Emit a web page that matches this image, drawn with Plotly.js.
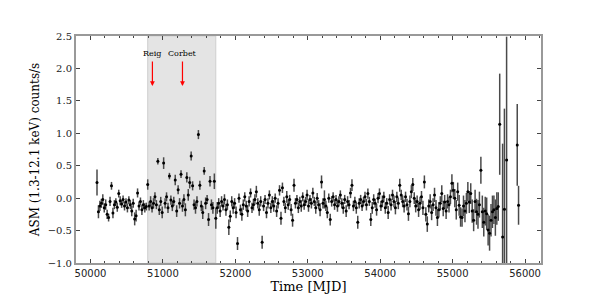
<!DOCTYPE html>
<html>
<head>
<meta charset="utf-8">
<script src="https://cdn.plot.ly/plotly-3.0.1.min.js"></script>
<style>html,body{margin:0;padding:0;background:#fff;}#chart{width:600px;height:300px;}</style>
</head>
<body>
<div id="chart"></div>
<script>
// ---- data (MJD, ASM rate, 1-sigma error) ----
const tA = [50090,50110,50130,50150,50170,50190,50210,50230,50250,50270,50290,50310,50330,50350,50370,50390,50410,50430,50450,50470,50490,50510,50530,50550,50570,50590,50610,50630,50650,50670,50690,50710,50730,50750,50770,50790];
const vA = [0.24,-0.21,-0.12,-0.08,-0.02,-0.15,-0.10,-0.25,-0.30,-0.05,0.19,-0.23,-0.10,-0.06,-0.14,0.07,-0.04,-0.09,-0.02,-0.12,-0.06,-0.15,-0.03,-0.10,-0.20,-0.08,-0.32,-0.27,0.08,-0.12,-0.05,-0.18,-0.10,-0.15,-0.13,0.21];
const eA = [0.20,0.10,0.08,0.07,0.08,0.07,0.08,0.07,0.06,0.07,0.06,0.08,0.07,0.06,0.07,0.06,0.07,0.06,0.06,0.07,0.06,0.07,0.06,0.07,0.08,0.07,0.10,0.09,0.07,0.07,0.06,0.08,0.07,0.07,0.06,0.08];

const tB = [50810,50830,50850,50870,50890,50910,50930,50950,50970,50990,51010,51030,51050,51070,51090,51110,51130,51150,51170,51190,51210,51230,51250,51270,51290,51310,51330,51350,51370,51390,51410,51430,51450,51470,51490,51510,51530,51550,51570,51590,51610,51630,51650,51670,51690,51710,51730];
const vB = [-0.12,-0.05,-0.15,-0.08,0.02,-0.10,0.57,-0.18,-0.05,-0.22,0.54,-0.08,0.02,-0.15,0.34,-0.03,-0.12,-0.05,0.28,-0.20,0.13,-0.08,0.37,-0.12,-0.02,-0.18,0.32,0.05,0.24,0.65,0.19,-0.10,-0.15,-0.05,0.98,0.20,-0.12,-0.22,0.42,-0.08,-0.02,-0.33,0.26,-0.10,-0.15,0.26,-0.31];
const eB = [0.07,0.08,0.07,0.08,0.07,0.07,0.05,0.08,0.07,0.09,0.09,0.08,0.07,0.08,0.05,0.07,0.08,0.07,0.08,0.09,0.07,0.08,0.06,0.09,0.08,0.10,0.08,0.09,0.09,0.07,0.07,0.08,0.09,0.08,0.07,0.07,0.08,0.10,0.06,0.09,0.07,0.10,0.08,0.08,0.09,0.12,0.16];

const tC = [51750,51770,51790,51810,51830,51850,51870,51890,51910,51930,51950,51970,51990,52010,52030,52050,52070,52090,52110,52130,52150,52170,52190,52210,52230,52250,52270,52290,52310,52330,52350,52370,52390,52410,52430,52450,52470,52490,52510,52530,52550,52570,52590,52610,52630,52650,52670,52690,52710,52730,52750,52770,52790,52810];
const vC = [-0.15,-0.08,-0.20,-0.05,-0.12,-0.02,-0.18,-0.10,-0.45,-0.28,-0.05,-0.15,-0.08,-0.22,-0.70,0.00,-0.18,-0.25,-0.10,0.02,-0.12,-0.20,-0.05,0.08,-0.15,-0.10,-0.02,0.10,-0.08,-0.18,-0.05,-0.68,-0.12,-0.02,-0.22,-0.08,0.05,-0.15,-0.05,-0.12,0.00,-0.20,-0.08,0.12,-0.31,0.16,-0.05,-0.15,0.02,-0.10,-0.02,-0.18,-0.34,0.20];
const eC = [0.09,0.08,0.09,0.08,0.07,0.08,0.09,0.08,0.12,0.09,0.08,0.09,0.08,0.09,0.10,0.07,0.08,0.10,0.08,0.07,0.08,0.09,0.08,0.07,0.08,0.09,0.08,0.09,0.08,0.09,0.08,0.10,0.08,0.07,0.09,0.08,0.07,0.08,0.08,0.09,0.07,0.09,0.08,0.08,0.10,0.08,0.07,0.08,0.09,0.08,0.07,0.09,0.10,0.10];

const tD = [52830,52850,52870,52890,52910,52930,52950,52970,52990,53010,53030,53050,53070,53090,53110,53130,53150,53170,53190,53210,53230,53250,53270,53290,53310,53330,53350,53370,53390,53410,53430,53450,53470,53490,53510,53530,53550,53570,53590,53610,53630,53650,53670,53690,53710,53730,53750,53770,53790,53810,53830,53850,53870,53890,53910,53930,53950,53970,53990];
const vD = [-0.08,-0.02,-0.15,-0.05,-0.12,0.02,-0.10,-0.05,0.05,-0.12,-0.02,-0.08,0.08,-0.05,-0.15,0.00,-0.10,-0.18,0.25,-0.08,-0.02,-0.12,-0.22,0.00,-0.33,-0.05,0.02,-0.10,-0.02,-0.12,-0.05,0.05,-0.08,-0.15,-0.02,-0.20,-0.05,-0.10,0.08,0.20,-0.12,-0.05,-0.15,-0.37,-0.08,-0.02,-0.12,-0.05,0.02,-0.10,0.07,-0.05,-0.33,-0.15,-0.02,-0.08,-0.18,0.00,0.07];
const eD = [0.08,0.07,0.08,0.07,0.09,0.07,0.08,0.07,0.08,0.09,0.07,0.08,0.08,0.07,0.09,0.08,0.07,0.10,0.10,0.08,0.14,0.08,0.09,0.07,0.09,0.08,0.07,0.08,0.07,0.09,0.08,0.07,0.08,0.09,0.07,0.09,0.08,0.07,0.08,0.09,0.08,0.07,0.09,0.10,0.08,0.07,0.08,0.07,0.08,0.09,0.08,0.07,0.10,0.09,0.08,0.07,0.09,0.08,0.08];

const tE = [54010,54030,54050,54070,54090,54110,54130,54150,54170,54190,54210,54230,54250,54270,54290,54310,54330,54350,54370,54390,54410,54430,54450,54470,54490,54510,54530,54550,54570,54590,54610,54630,54650,54670,54690,54710,54730,54750,54770,54790,54810,54830,54850,54870,54890,54910,54930,54950,54970,54990,55010,55030,55050,55070,55090,55110,55130,55150,55170,55190,55210,55230,55250,55270,55290];
const vE = [-0.12,-0.05,0.02,-0.15,-0.08,-0.22,-0.02,-0.10,0.05,-0.05,-0.15,0.02,-0.08,0.20,0.05,-0.05,-0.12,0.02,-0.10,-0.24,-0.05,0.10,0.21,0.00,-0.12,-0.05,-0.18,-0.08,0.02,-0.15,0.25,-0.25,-0.40,-0.12,-0.05,-0.22,-0.10,0.05,-0.15,-0.30,-0.18,-0.08,0.07,-0.16,-0.06,-0.20,-0.05,-0.10,0.02,0.23,0.12,0.00,-0.18,0.10,-0.11,-0.29,-0.30,-0.12,-0.20,-0.08,0.10,-0.06,0.07,-0.20,-0.34];
const eE = [0.08,0.09,0.08,0.09,0.08,0.10,0.08,0.09,0.08,0.09,0.10,0.08,0.09,0.10,0.08,0.09,0.10,0.08,0.09,0.11,0.09,0.10,0.10,0.09,0.10,0.09,0.11,0.10,0.09,0.11,0.10,0.11,0.12,0.10,0.11,0.12,0.10,0.11,0.12,0.13,0.12,0.11,0.13,0.12,0.11,0.12,0.11,0.12,0.11,0.14,0.13,0.14,0.15,0.14,0.16,0.15,0.14,0.16,0.17,0.16,0.15,0.17,0.16,0.18,0.17];

const tF = [55310,55330,55350,55370,55390,55410,55430,55450,55470,55490,55510,55530,55550,55570,55590,55610,55630,55650,55690,55715,55745,55892,55910];
const vF = [-0.05,-0.21,-0.25,-0.10,0.43,-0.21,-0.37,-0.20,-0.24,-0.49,-0.54,-0.34,-0.21,-0.18,-0.30,-0.16,-0.13,1.14,-0.60,-0.17,0.59,0.82,-0.11];
const eF = [0.18,0.20,0.22,0.20,0.21,0.25,0.22,0.22,0.25,0.24,0.27,0.25,0.25,0.22,0.28,0.25,0.22,0.78,1.44,1.55,1.90,0.63,0.30];

const shadeStart = 50790, shadeEnd = 51730;
const refNames = ["Reig", "Corbet"];
const refTimes = [50855, 51270];

const xTickVals = [50000,51000,52000,53000,54000,55000,56000];
const yTickVals = [-1.0,-0.5,0.0,0.5,1.0,1.5,2.0,2.5];

// ---- build ----
const t = [].concat(tA,tB,tC,tD,tE,tF);
const v = [].concat(vA,vB,vC,vD,vE,vF);
const e = [].concat(eA,eB,eC,eD,eE,eF);

const trace = {
  x: t, y: v, type: 'scatter', mode: 'markers',
  marker: {color: '#000', size: 3},
  error_y: {type: 'data', array: e, visible: true, color: '#4a4a4a', thickness: 1.5, width: 0},
  hoverinfo: 'skip', showlegend: false
};

const annotations = [];
refNames.forEach((name, i) => {
  annotations.push({x: refTimes[i], y: 2.23, xref: 'x', yref: 'y', text: name, showarrow: false,
    font: {family: 'DejaVu Serif', size: 8, color: '#000'}, xanchor: 'center', yanchor: 'middle'});
  annotations.push({x: refTimes[i], y: 1.73, xref: 'x', yref: 'y', ax: refTimes[i], ay: 2.13,
    axref: 'x', ayref: 'y', text: '', showarrow: true, arrowhead: 2, arrowsize: 0.8,
    arrowwidth: 1.2, arrowcolor: '#ff0000', standoff: 0, startstandoff: 0});
});

const axisCommon = {
  showline: true, linecolor: '#999', linewidth: 2, mirror: 'allticks',
  ticks: 'inside', ticklen: 4, tickwidth: 1, tickcolor: '#444',
  showgrid: false, zeroline: false
};

const layout = {
  width: 600, height: 300,
  margin: {l: 76, r: 59, t: 36, b: 37},
  paper_bgcolor: '#fff', plot_bgcolor: '#fff',
  xaxis: Object.assign({}, axisCommon, {
    range: [49800, 56220], tickvals: xTickVals, ticktext: xTickVals.map(String),
    tickfont: {family: 'DejaVu Sans', size: 10, color: '#222'},
    minor: {dtick: 200, ticks: 'inside', ticklen: 2, tickcolor: '#444', showgrid: false},
    title: {text: 'Time [MJD]', font: {family: 'DejaVu Serif', size: 13, color: '#000'}, standoff: 4}
  }),
  yaxis: Object.assign({}, axisCommon, {
    range: [-1.0, 2.5], tickvals: yTickVals, tickformat: '.1f',
    tickfont: {family: 'DejaVu Serif', size: 10, color: '#222'},
    title: {text: 'ASM (1.3-12.1 keV) counts/s', font: {family: 'DejaVu Serif', size: 12, color: '#000'}, standoff: 6}
  }),
  shapes: [{type: 'rect', xref: 'x', yref: 'paper', x0: shadeStart, x1: shadeEnd, y0: 0, y1: 1,
    fillcolor: '#e4e4e4', line: {color: '#cfcfcf', width: 1}, layer: 'below'}],
  annotations: annotations
};

Plotly.newPlot('chart', [trace], layout, {displayModeBar: false, staticPlot: true});
</script>
</body>
</html>
